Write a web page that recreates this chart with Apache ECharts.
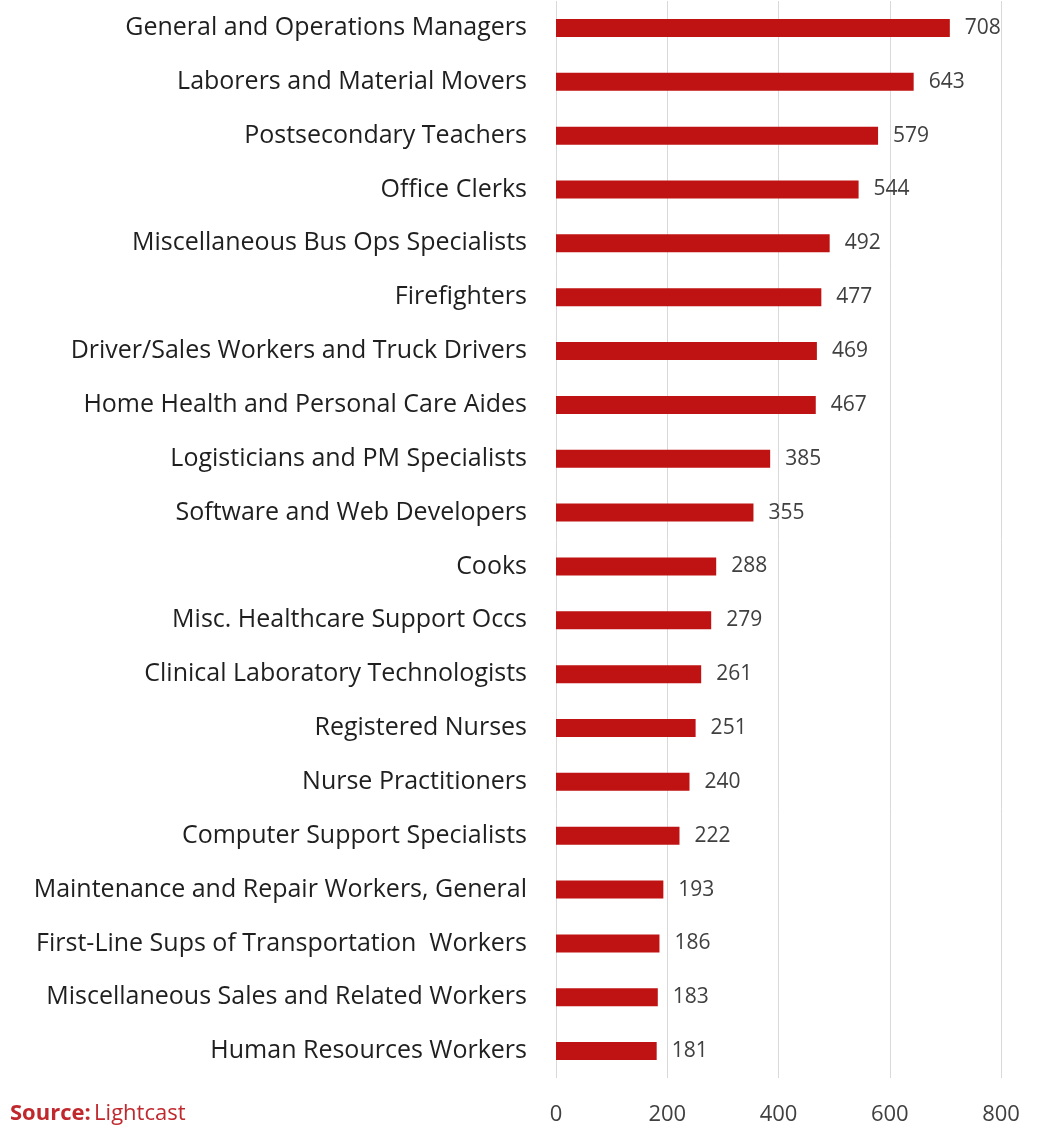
<!DOCTYPE html>
<html>
<head>
<meta charset="utf-8">
<script src="https://cdn.jsdelivr.net/npm/echarts@6/dist/echarts.min.js"></script>
<style>
  html, body { margin: 0; padding: 0; background: #fff; }
  #chart { width: 1047px; height: 1144px; }
</style>
</head>
<body>
<div id="chart"></div>
<script>
// Occupations, listed top to bottom as shown
const occupations = [
  "General and Operations Managers",
  "Laborers and Material Movers",
  "Postsecondary Teachers",
  "Office Clerks",
  "Miscellaneous Bus Ops Specialists",
  "Firefighters",
  "Driver/Sales Workers and Truck Drivers",
  "Home Health and Personal Care Aides",
  "Logisticians and PM Specialists",
  "Software and Web Developers",
  "Cooks",
  "Misc. Healthcare Support Occs",
  "Clinical Laboratory Technologists",
  "Registered Nurses",
  "Nurse Practitioners",
  "Computer Support Specialists",
  "Maintenance and Repair Workers, General",
  "First-Line Sups of Transportation  Workers",
  "Miscellaneous Sales and Related Workers",
  "Human Resources Workers"
];
const postings = [708, 643, 579, 544, 492, 477, 469, 467, 385, 355, 288, 279, 261, 251, 240, 222, 193, 186, 183, 181];
const xTicks = [0, 200, 400, 600, 800];

const font = "'Open Sans', 'Noto Sans', sans-serif";
const chart = echarts.init(document.getElementById('chart'), null, { renderer: 'canvas' });

chart.setOption({
  animation: false,
  backgroundColor: '#ffffff',
  grid: { left: 556, right: 46, top: 1, bottom: 66, containLabel: false },
  xAxis: {
    type: 'value',
    min: xTicks[0],
    max: xTicks[xTicks.length - 1],
    interval: 200,
    axisLine: { show: false },
    axisTick: { show: false },
    splitLine: { show: true, lineStyle: { color: '#d9d9d9', width: 1 } },
    axisLabel: { color: '#404040', fontSize: 22, fontFamily: font, margin: 26 }
  },
  yAxis: {
    type: 'category',
    inverse: true,
    data: occupations,
    axisLine: { show: false },
    axisTick: { show: false },
    axisLabel: { color: '#1f1f1f', fontSize: 25, fontFamily: font, margin: 29 }
  },
  series: [{
    type: 'bar',
    data: postings,
    barWidth: 18,
    itemStyle: { color: '#bf1212' },
    label: {
      show: true,
      position: 'right',
      distance: 15,
      color: '#404040',
      fontSize: 21,
      fontFamily: font
    }
  }],
  graphic: [{
    type: 'text',
    left: 10,
    top: 1103,
    style: {
      rich: {
        b: { fontWeight: 'bold', fill: '#c0282d', fontSize: 22, fontFamily: font },
        n: { fill: '#c0282d', fontSize: 22, fontFamily: font }
      },
      text: '{b|Source:} {n|Lightcast}'
    }
  }]
});
</script>
</body>
</html>
